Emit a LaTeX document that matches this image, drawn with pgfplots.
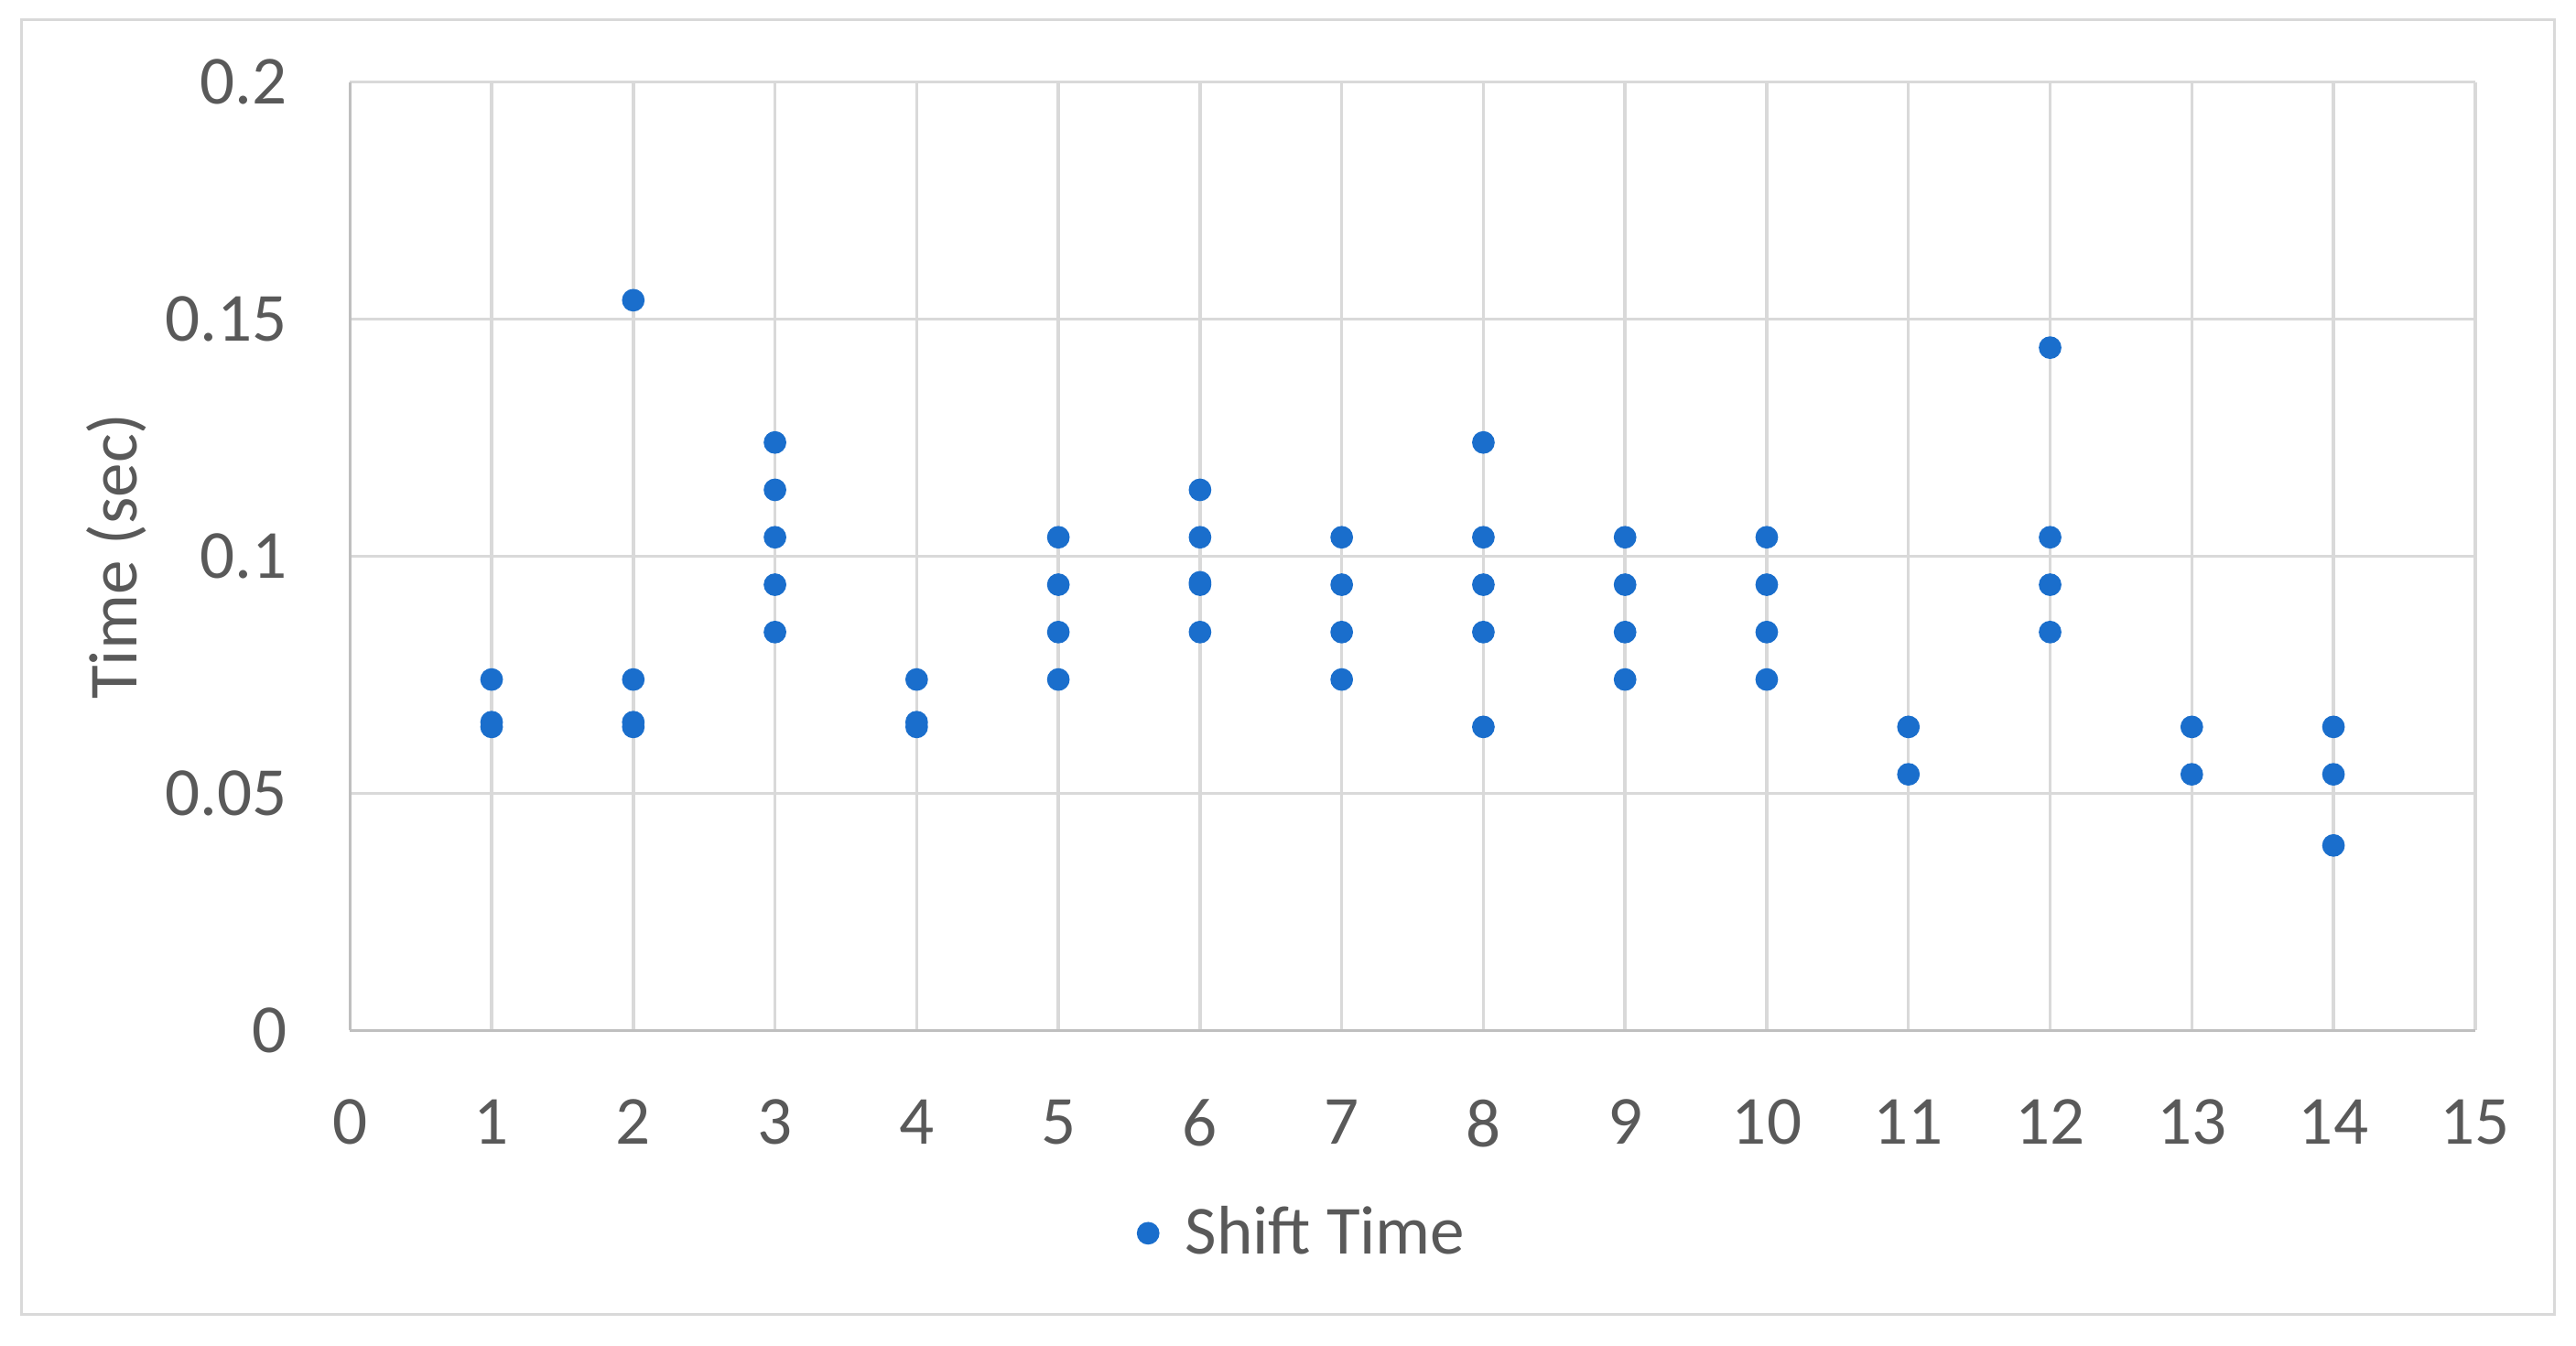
\documentclass[border=0pt]{standalone}
\usepackage{fontspec}
\setmainfont{Carlito}
\usepackage{pgfplots}
\pgfplotsset{compat=1.18}

\definecolor{txtgray}{HTML}{595959}
\definecolor{gridgray}{HTML}{D9D9D9}
\definecolor{axgray}{HTML}{BFBFBF}
\definecolor{dotblue}{HTML}{1A6ECC}

\begin{document}
\begin{tikzpicture}
\begin{axis}[
  scale only axis,
  width=16.5cm, height=7.36cm,
  xmin=0, xmax=15,
  ymin=0, ymax=0.2,
  xtick={0,1,...,15},
  ytick={0,0.05,0.1,0.15,0.2},
  yticklabels={0,0.05,0.1,0.15,0.2},
  xticklabels={0,1,2,3,4,5,6,7,8,9,10,11,12,13,14,15},
  major tick length=0pt,
  grid=major,
  grid style={gridgray, line width=0.7pt},
  axis x line*=bottom,
  axis y line*=left,
  axis line style={axgray, line width=0.7pt, -},
  xticklabel style={font=\fontsize{15.2}{18}\selectfont, text=txtgray,
                    inner sep=0pt, anchor=north, yshift=-0.53cm},
  yticklabel style={font=\fontsize{15.2}{18}\selectfont, text=txtgray,
                    inner sep=0pt, anchor=east, xshift=-0.48cm},
  ylabel={Time (sec)},
  every axis y label/.style={at={(rel axis cs:-0.1098,0.5)}, rotate=90,
                             anchor=center, font=\fontsize{15.2}{18}\selectfont,
                             text=txtgray},
  legend style={draw=none, fill=none, at={(rel axis cs:0.443,-0.214)},
                anchor=center, font=\fontsize{15.2}{18}\selectfont,
                text=txtgray},
  legend image code/.code={
    \path (0cm,0cm) (0.51cm,0cm);
    \draw[#1] plot coordinates {(0.3cm,0cm)};
  },
  clip=false,
]
% shift times per test run
\addplot[only marks, mark=*, mark size=2.3pt, color=dotblue] coordinates {
  (1,0.074)(1,0.065)(1,0.064)
  (2,0.154)(2,0.074)(2,0.065)(2,0.064)
  (3,0.124)(3,0.114)(3,0.104)(3,0.094)(3,0.084)
  (4,0.074)(4,0.065)(4,0.064)
  (5,0.104)(5,0.094)(5,0.084)(5,0.074)
  (6,0.114)(6,0.104)(6,0.094)(6,0.0945)(6,0.084)
  (7,0.104)(7,0.094)(7,0.084)(7,0.074)
  (8,0.124)(8,0.104)(8,0.094)(8,0.084)(8,0.064)
  (9,0.104)(9,0.094)(9,0.084)(9,0.074)
  (10,0.104)(10,0.094)(10,0.084)(10,0.074)
  (11,0.064)(11,0.054)
  (12,0.144)(12,0.104)(12,0.094)(12,0.084)
  (13,0.064)(13,0.054)
  (14,0.064)(14,0.054)(14,0.039)
};
\addlegendentry{Shift Time}
\end{axis}
\draw[gridgray, line width=0.6pt] (-2.551,-2.206) rectangle (17.117,7.845);
\pgfresetboundingbox
\path[use as bounding box] (-2.717,-2.444) rectangle (17.283,7.9975);
\end{tikzpicture}
\end{document}
